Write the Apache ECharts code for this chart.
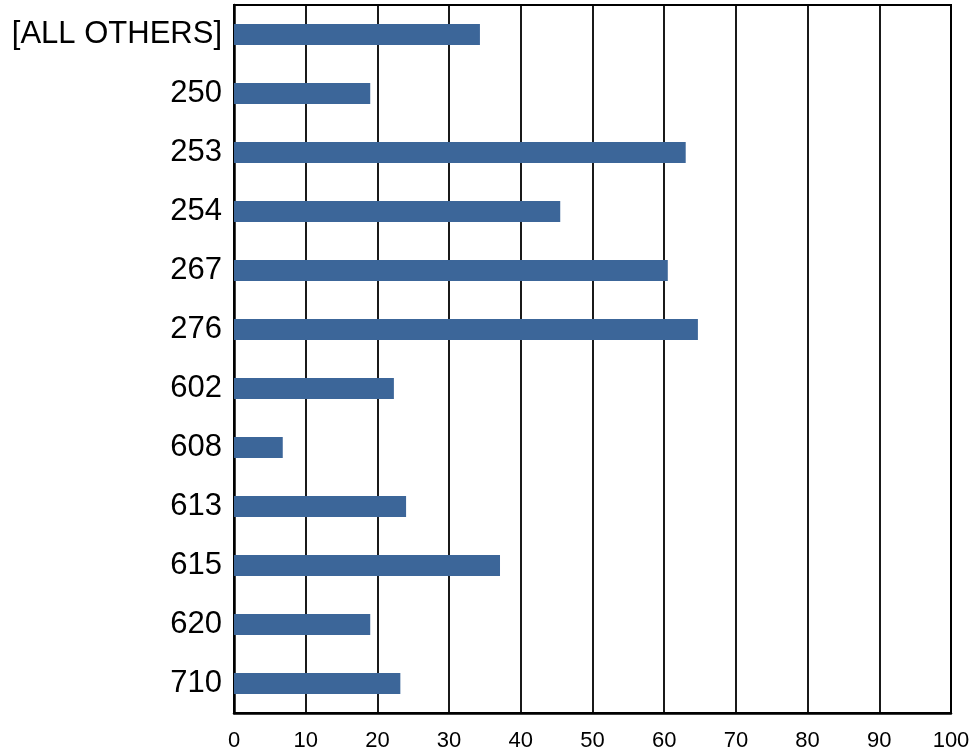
<!DOCTYPE html>
<html><head><meta charset="utf-8">
<script src="https://cdn.jsdelivr.net/npm/echarts@6/dist/echarts.min.js"></script>
<style>html,body{margin:0;padding:0;background:#fff}#c{width:976px;height:755px}</style>
</head><body><div id="c"></div>
<script>
const categories = ["[ALL OTHERS]", "250", "253", "254", "267", "276", "602", "608", "613", "615", "620", "710"];
const values = [34.3, 19.0, 63.0, 45.5, 60.5, 64.7, 22.3, 6.8, 24.0, 37.1, 19.0, 23.2];
const xTicks = [0, 10, 20, 30, 40, 50, 60, 70, 80, 90, 100];

const chart = echarts.init(document.getElementById('c'), null, {renderer: 'canvas'});
chart.setOption({
  animation: false,
  grid: {left: 234, right: 25, top: 5, bottom: 42, containLabel: false,
         show: true, borderColor: '#000', borderWidth: 2},
  xAxis: {
    type: 'value', min: xTicks[0], max: xTicks[xTicks.length - 1], interval: 10,
    axisLine: {show: true, lineStyle: {color: '#000', width: 2.5}},
    axisTick: {show: false},
    axisLabel: {color: '#000', fontSize: 22, fontFamily: 'Liberation Sans, Arial, sans-serif', margin: 17},
    splitLine: {show: true, lineStyle: {color: '#000', width: 1.8}}
  },
  yAxis: {
    type: 'category', data: categories, inverse: true,
    axisLine: {show: true, lineStyle: {color: '#000', width: 2.5}},
    axisTick: {show: false},
    axisLabel: {color: '#000', fontSize: 31, fontFamily: 'Liberation Sans, Arial, sans-serif', margin: 12}
  },
  series: [{
    type: 'bar', data: values, barWidth: '36%',
    itemStyle: {color: '#3C6699'}
  }]
});
</script></body></html>
